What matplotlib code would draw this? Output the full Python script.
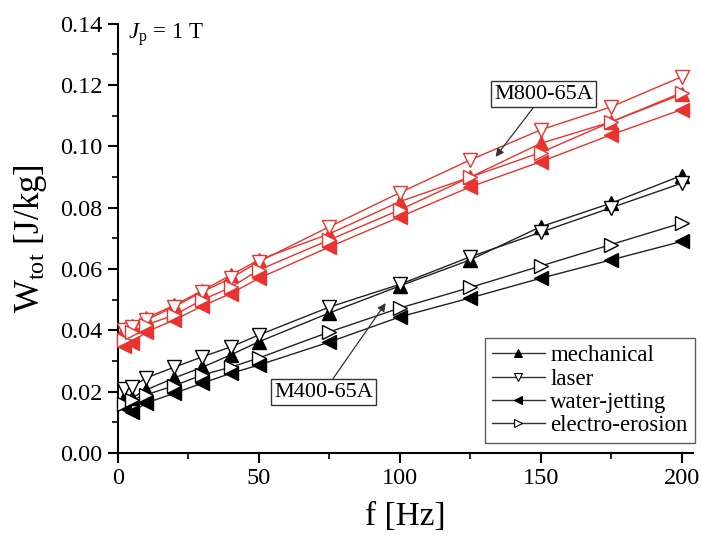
import matplotlib
matplotlib.use("Agg")
import matplotlib.pyplot as plt
from matplotlib.lines import Line2D
from matplotlib.ticker import MultipleLocator

plt.rcParams['font.family'] = ['Liberation Serif', 'DejaVu Serif']
plt.rcParams['mathtext.fontset'] = 'custom'
plt.rcParams['mathtext.rm'] = 'Liberation Serif'
plt.rcParams['mathtext.it'] = 'Liberation Serif:italic'

freq = [2, 5, 10, 20, 30, 40, 50, 75, 100, 125, 150, 175, 200]

# M400-65A (black)
m400_mechanical = [0.018, 0.018, 0.0206, 0.0245, 0.028, 0.032, 0.0363, 0.0457, 0.0545, 0.0630, 0.0738, 0.0815, 0.0905]
m400_laser      = [0.021, 0.0216, 0.0245, 0.028, 0.0314, 0.0346, 0.0385, 0.0476, 0.0550, 0.0640, 0.0720, 0.0800, 0.0880]
m400_water      = [0.015, 0.0134, 0.0163, 0.0195, 0.0228, 0.026, 0.0287, 0.0362, 0.0444, 0.0506, 0.0570, 0.0630, 0.0690]
m400_electro    = [0.016, 0.0173, 0.019, 0.022, 0.0255, 0.028, 0.031, 0.0395, 0.0473, 0.0540, 0.0610, 0.0680, 0.0750]

# M800-65A (red)
m800_mechanical = [0.0405, 0.0415, 0.044, 0.0482, 0.053, 0.0580, 0.0630, 0.0715, 0.0820, 0.0900, 0.1010, 0.1080, 0.1170]
m800_laser      = [0.040, 0.041, 0.0434, 0.0477, 0.0526, 0.0570, 0.0624, 0.0738, 0.0849, 0.0956, 0.1054, 0.1129, 0.1227]
m800_water      = [0.035, 0.036, 0.0395, 0.0434, 0.048, 0.0520, 0.0570, 0.0672, 0.0770, 0.0868, 0.0950, 0.1038, 0.1120]
m800_electro    = [0.037, 0.0395, 0.0418, 0.045, 0.050, 0.0540, 0.0597, 0.0695, 0.0793, 0.0900, 0.0980, 0.1080, 0.1175]

labels = ['mechanical', 'laser', 'water-jetting', 'electro-erosion']
markers = ['^', 'v', '<', '>']
fills = [True, False, True, False]

RED = '#e8332e'

fig = plt.figure(figsize=(7.02, 5.40), dpi=100)
ax = fig.add_axes([0.168, 0.161, 0.819, 0.795])

black_series = [m400_mechanical, m400_laser, m400_water, m400_electro]
red_series = [m800_mechanical, m800_laser, m800_water, m800_electro]

for vals, mk, fl in zip(red_series, markers, fills):
    ax.plot(freq, vals, color=RED, lw=1.0, marker=mk, markersize=9.5,
            markerfacecolor=RED if fl else 'white', markeredgecolor=RED,
            markeredgewidth=1.0, clip_on=False, zorder=3)

for vals, mk, fl in zip(black_series, markers, fills):
    ax.plot(freq, vals, color='#222222', lw=1.0, marker=mk, markersize=10,
            markerfacecolor='black' if fl else 'white', markeredgecolor='black',
            markeredgewidth=1.0, clip_on=False, zorder=3)

ax.set_xlim(0, 204)
ax.set_ylim(0, 0.14)
ax.xaxis.set_major_locator(MultipleLocator(50))
ax.xaxis.set_minor_locator(MultipleLocator(25))
ax.yaxis.set_major_locator(MultipleLocator(0.02))
ax.yaxis.set_minor_locator(MultipleLocator(0.01))
ax.yaxis.set_major_formatter(plt.FuncFormatter(lambda v, p: f'{v:.2f}'))

for s in ['top', 'right']:
    ax.spines[s].set_visible(False)
for s in ['left', 'bottom']:
    ax.spines[s].set_linewidth(1.5)

ax.tick_params(which='major', direction='out', length=7, width=1.5, labelsize=17.5, pad=4)
ax.tick_params(which='minor', direction='out', length=4, width=1.2)

ax.set_xlabel('f [Hz]', fontsize=24, labelpad=9)
ax.set_ylabel(r'W$_{\rm tot}$ [J/kg]', fontsize=25, labelpad=8)

ax.text(3.5, 0.1365, r'$J_{\rm p}$ = 1 T', fontsize=16.5, ha='left', va='center')

ax.annotate('M800-65A', xy=(134, 0.0966), xytext=(151, 0.1170),
            fontsize=16, ha='center', va='center',
            bbox=dict(boxstyle='square,pad=0.15', fc='white', ec='#333333', lw=1.0),
            arrowprops=dict(arrowstyle='-|>', color='#333333', lw=0.9,
                            mutation_scale=12, shrinkA=0, shrinkB=0))

ax.annotate('M400-65A', xy=(95, 0.0489), xytext=(73, 0.0199),
            fontsize=16, ha='center', va='center',
            bbox=dict(boxstyle='square,pad=0.15', fc='white', ec='#333333', lw=1.0),
            arrowprops=dict(arrowstyle='-|>', color='#333333', lw=0.9,
                            mutation_scale=12, shrinkA=0, shrinkB=0))

handles = [Line2D([], [], color='#333333', lw=1.0, marker=mk, markersize=6,
                  markerfacecolor='black' if fl else 'white', markeredgecolor='black',
                  markeredgewidth=0.8)
           for mk, fl in zip(markers, fills)]
leg = ax.legend(handles, labels, loc='lower right', bbox_to_anchor=(1.003, 0.023),
                fontsize=16.5, frameon=True, fancybox=False, handlelength=2.3,
                handletextpad=0.25, borderpad=0.3, labelspacing=0.1,
                borderaxespad=0)
leg.get_frame().set_edgecolor('#333333')
leg.get_frame().set_linewidth(1.0)

fig.savefig('out.png', dpi=100)
